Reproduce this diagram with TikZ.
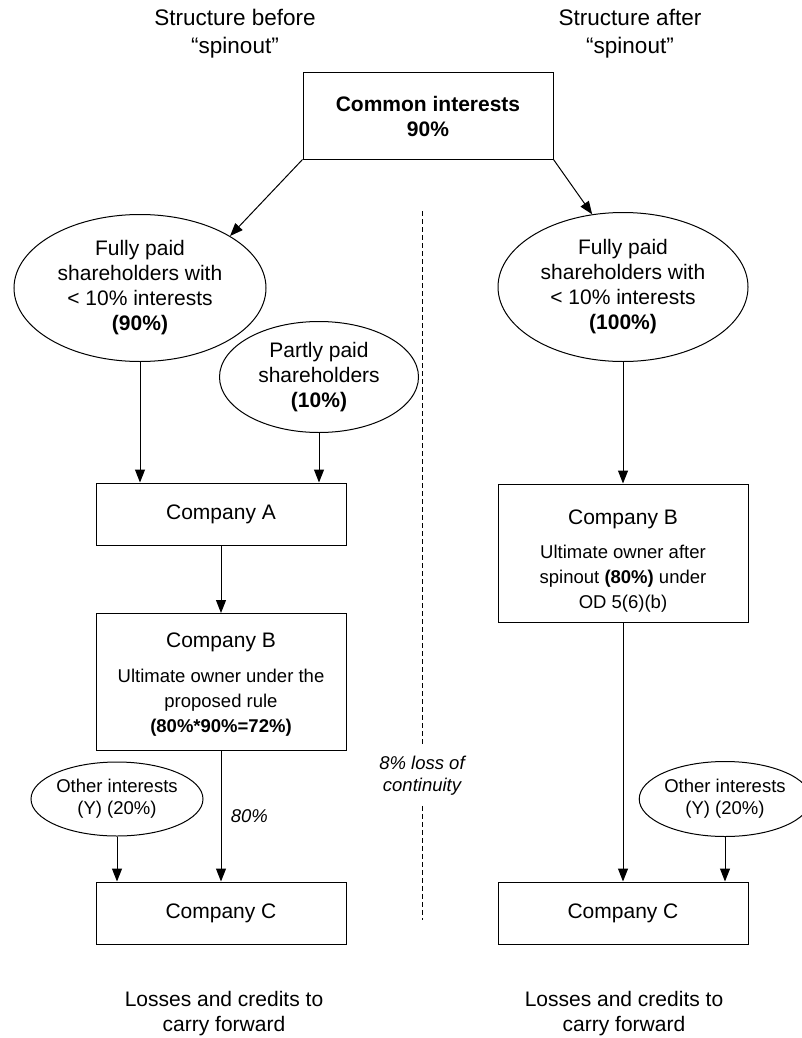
\documentclass[tikz,border=0pt]{standalone}
\usepackage{fontspec}
\setmainfont{Liberation Sans}
\usetikzlibrary{arrows.meta,shapes.geometric}
\newcommand{\normtxt}{\fontsize{21}{25}\selectfont}
\newcommand{\smalltxt}{\fontsize{18.5}{22}\selectfont}

\begin{document}
\begin{tikzpicture}[x=1pt,y=-1pt,
  box/.style={draw,line width=1pt,minimum width=250pt,align=center,font=\normtxt,inner sep=0pt},
  oval/.style={draw,ellipse,line width=1pt,align=center,font=\normtxt,inner sep=0pt},
  arr/.style={line width=1pt,-{Triangle[width=10pt,length=13pt]}},
  lbl/.style={align=center,font=\normtxt}]
\useasboundingbox (0,0) rectangle (802,1038);

\node[lbl,font=\fontsize{22.5}{28}\selectfont] (before) at (235,34) {Structure before\\“spinout”};
\node[lbl,font=\fontsize{22.5}{28}\selectfont] (after) at (630,34) {Structure after\\“spinout”};

\node[box,minimum height=86pt,font=\normtxt\bfseries] (common) at (428,116) {Common interests\\90\%};

% before spinout
\node[oval,minimum width=252pt,minimum height=147pt] (fpl) at (140,288)
  {Fully paid\\shareholders with\\< 10\% interests\\\textbf{(90\%)}};
\node[oval,minimum width=199pt,minimum height=111pt] (ppl) at (319,377)
  {Partly paid\\shareholders\\\textbf{(10\%)}};
\node[box,minimum height=62pt] (coA) at (221,514) {Company A};
\node[box,minimum height=137pt] (coBl) at (221,682)
  {\rule{0pt}{19pt}Company B\\[10pt]\smalltxt Ultimate owner under the\\\smalltxt proposed rule\\\smalltxt\textbf{(80\%*90\%=72\%)}};
\node[oval,font=\smalltxt,minimum width=172pt,minimum height=74pt] (oil) at (117,799)
  {Other interests\\(Y) (20\%)};
\node[box,minimum height=62pt] (coCl) at (221,913) {Company C};

% after spinout
\node[oval,minimum width=250pt,minimum height=149pt] (fpr) at (623,287)
  {Fully paid\\shareholders with\\< 10\% interests\\\textbf{(100\%)}};
\node[box,minimum height=138pt] (coBr) at (623,553)
  {\rule{0pt}{30pt}Company B\\[9pt]\smalltxt Ultimate owner after\\\smalltxt spinout \textbf{(80\%)} under\\\smalltxt OD 5(6)(b)};
\node[oval,font=\smalltxt,minimum width=164pt,minimum height=75pt] (oir) at (725,799)
  {Other interests\\(Y) (20\%)};
\node[box,minimum height=62pt] (coCr) at (623,913) {Company C};

\node[lbl] (carryl) at (224,1014) {Losses and credits to\\carry forward};
\node[lbl] (carryr) at (624,1014) {Losses and credits to\\carry forward};

% divider
\coordinate (dtop) at (422,211);
\coordinate (dbot) at (422,920);
\node[lbl,font=\smalltxt\itshape,inner sep=10pt] (loss) at (422,776) {8\% loss of\\continuity};
\draw[line width=0.8pt,dash pattern=on 5pt off 3pt] (dtop) -- (loss) -- (dbot);

\draw[arr] (common.south west) -- (fpl.30);
\draw[arr] (common.south east) -- (fpr.113);
\draw[arr] (fpl.south) -- (fpl.south |- coA.north);
\draw[arr] (ppl.south) -- (ppl.south |- coA.north);
\draw[arr] (coA) -- (coBl);
\draw[arr] (coBl) -- node[right,xshift=6pt,font=\smalltxt\itshape] (pct) {80\%} (coCl);
\draw[arr] (oil.south) -- (oil.south |- coCl.north);
\draw[arr] (fpr) -- (coBr);
\draw[arr] (coBr) -- (coCr);
\draw[arr] (oir.south) -- (oir.south |- coCr.north);
\end{tikzpicture}
\end{document}
